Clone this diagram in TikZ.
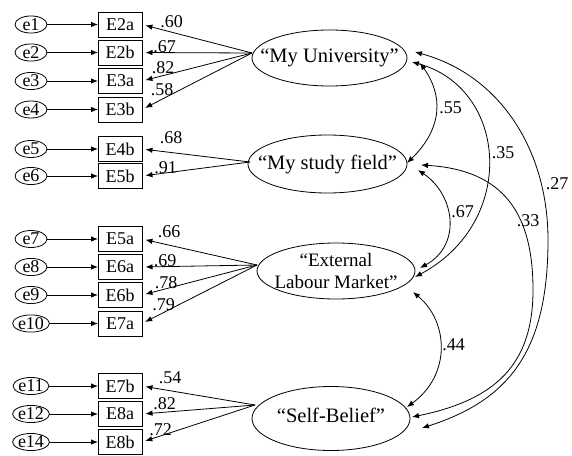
\documentclass[tikz,border=0pt]{standalone}
\usepackage{fontspec}
\setmainfont{Liberation Serif}
\usetikzlibrary{shapes.geometric,arrows.meta}
\begin{document}
\begin{tikzpicture}[x=1pt,y=-1pt,
  every node/.style={inner sep=0pt, outer sep=0pt},
  ind/.style={draw, line width=0.9pt, minimum width=44pt, minimum height=25pt, font=\fontsize{18}{20}\selectfont},
  err/.style={draw, ellipse, line width=0.8pt, minimum width=32pt, minimum height=17pt, font=\fontsize{18}{20}\selectfont},
  lat/.style={draw, ellipse, line width=0.8pt},
  lattext/.style={font=\fontsize{20.5}{22}\selectfont, align=center},
  coef/.style={font=\fontsize{18}{20}\selectfont},
  arr/.style={line width=0.8pt, -{Latex[length=7pt,width=5.5pt]}},
  cov/.style={line width=0.8pt, {Latex[length=7pt,width=5.5pt]}-{Latex[length=7pt,width=5.5pt]}},
]
\useasboundingbox (0,0) rectangle (572,455);

% indicators and error terms
\foreach \e/\b/\y in {e1/E2a/24.5, e2/E2b/52.5, e3/E3a/81, e4/E3b/109.5,
                      e5/E4b/149, e6/E5b/176,
                      e7/E5a/239, e8/E6a/267, e9/E6b/295, e10/E7a/323.5,
                      e11/E7b/386, e12/E8a/414, e14/E8b/442}{
  \node[err] (\e) at (31,\y) {\e};
  \node[ind] (\b) at (120,\y) {\b};
  \draw[arr] (\e) -- (\b);
}

% latent variables
\node[lat, minimum width=155pt, minimum height=56pt] (uni) at (329.5,58) {};
\node[lattext] (unit) at (uni) {“My University”};
\node[lat, minimum width=159pt, minimum height=58pt] (study) at (327.5,164) {};
\node[lattext] (studyt) at (study) {“My study field”};
\node[lat, minimum width=158pt, minimum height=56pt] (elm) at (336,271) {};
\node[lattext, font=\fontsize{19}{22}\selectfont] (elmt) at (elm) {“External\\Labour Market”};
\node[lat, minimum width=158pt, minimum height=64pt] (sb) at (331,418.5) {};
\node[lattext] (sbt) at (331,415) {“Self-Belief”};

% loading origins
\coordinate (uo) at (252,53);
\coordinate (so) at (250,162);
\coordinate (eo) at (257,265);
\coordinate (bo) at (255,405);

\foreach \o/\b/\l/\lx/\ly in {uo/E2a/.60/171.5/21.5, uo/E2b/.67/164.5/47, uo/E3a/.82/163/68, uo/E3b/.58/162/89.5,
    so/E4b/.68/171/137.5, so/E5b/.91/165.5/168,
    eo/E5a/.66/169/232, eo/E6a/.69/165/260.5, eo/E6b/.78/166/283, eo/E7a/.79/163.5/305,
    bo/E7b/.54/170/377.5, bo/E8a/.82/164.5/404, bo/E8b/.72/160.5/430}{
  \draw[arr, shorten >=3.5pt] (\o) -- (\b.east);
  \node[coef] (l\b) at (\lx,\ly) {\l};
}

% covariance end points
\coordinate (c27a) at (415,52);
\coordinate (c35a) at (412,62);
\coordinate (c55a) at (420,63);
\coordinate (c55b) at (407,163);
\coordinate (c33a) at (421,165);
\coordinate (c67a) at (418,170);
\coordinate (c67b) at (420,268);
\coordinate (c35b) at (415,277);
\coordinate (c44a) at (413,292);
\coordinate (c44b) at (407,407);
\coordinate (c33b) at (412,417);
\coordinate (c27b) at (422,428);
\coordinate (m27) at (548,240);
\coordinate (m33) at (533,290);

\draw[cov] (c55a) .. controls (443,95) and (443,128) .. (c55b);
\draw[cov] (c35a) .. controls (508,88) and (518,222) .. (c35b);
\draw[cov] (c27a) .. controls (500,75) and (548,150) .. (m27) .. controls (548,350) and (510,400) .. (c27b);
\draw[cov] (c67a) .. controls (455,195) and (462,245) .. (c67b);
\draw[cov] (c33a) .. controls (505,170) and (533,215) .. (m33) .. controls (533,365) and (495,400) .. (c33b);
\draw[cov] (c44a) .. controls (449,322) and (451,375) .. (c44b);

\node[coef] (k55) at (450.5,107.5) {.55};
\node[coef] (k35) at (503,152.5) {.35};
\node[coef] (k27) at (557,183.5) {.27};
\node[coef] (k67) at (462.5,212) {.67};
\node[coef] (k33) at (528,220.5) {.33};
\node[coef] (k44) at (453.5,344.5) {.44};
\end{tikzpicture}
\end{document}
